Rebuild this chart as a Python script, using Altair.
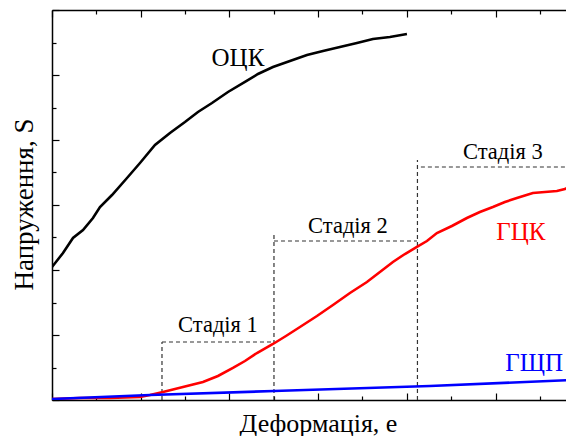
import altair as alt
import pandas as pd

# ---- data (x in minor-tick units, y in minor-tick units) ----
bcc_x = [0, 0.248, 0.473, 0.699, 0.924, 1.082, 1.353, 1.691, 1.984, 2.322, 2.66, 2.998, 3.291,
         3.607, 3.968, 4.351, 4.644, 4.982, 5.365, 5.749, 6.11, 6.492, 6.876, 7.236, 7.619, 8.003]
bcc_y = [4.092, 4.523, 4.985, 5.231, 5.6, 5.938, 6.308, 6.831, 7.292, 7.846, 8.215, 8.554, 8.862,
         9.138, 9.477, 9.785, 10.031, 10.246, 10.431, 10.615, 10.738, 10.862, 10.985, 11.108, 11.169, 11.262]

fcc_x = [0, 0.631, 1.307, 1.984, 2.209, 2.502, 2.953, 3.404, 3.742, 4.08, 4.351, 4.621, 4.982,
         5.275, 5.591, 5.974, 6.335, 6.718, 7.101, 7.394, 7.687, 7.958, 8.228, 8.454, 8.679, 9.017,
         9.355, 9.648, 9.941, 10.212, 10.482, 10.843, 11.114, 11.384, 11.565, 11.745]
fcc_y = [0.031, 0.062, 0.062, 0.092, 0.154, 0.246, 0.4, 0.554, 0.738, 0.985, 1.2, 1.446, 1.723,
         1.969, 2.246, 2.585, 2.923, 3.292, 3.631, 3.938, 4.246, 4.492, 4.708, 4.892, 5.138, 5.354,
         5.6, 5.785, 5.938, 6.092, 6.215, 6.369, 6.4, 6.431, 6.492, 6.615]

hcp_x = [0, 2.209, 5.005, 8.521, 11.745]
hcp_y = [0.031, 0.154, 0.277, 0.431, 0.615]

series_names = ["ОЦК", "ГЦК", "ГЩП"]
series_colors = ["#000000", "#ff0000", "#0000ff"]
curve_label_x = [4.193, 10.573, 10.87]
curve_label_y = [10.523, 5.169, 1.138]

stage_v_x = [2.48, 5.005, 8.24]
stage_v_top = [1.785, 5.077, 7.385]
stage_h_x1 = [2.48, 5.005, 8.318]
stage_h_x2 = [5.005, 8.228, 11.9]
stage_h_y = [1.785, 4.892, 7.169]
stage_labels = ["Стадія 1", "Стадія 2", "Стадія 3"]
stage_label_x = [3.742, 6.673, 10.167]
stage_label_y = [2.308, 5.354, 7.631]

x_ticks = list(range(0, 12))
y_ticks = list(range(0, 13))
X_DOMAIN = [0, 11.77]
Y_DOMAIN = [0, 12]

W, H = 522, 390
FONT = "Liberation Serif"

# ---- tables ----
rows = []
for name, xs, ys in zip(series_names, [bcc_x, fcc_x, hcp_x], [bcc_y, fcc_y, hcp_y]):
    for i, (a, b) in enumerate(zip(xs, ys)):
        rows.append({"series": name, "i": i, "x": a, "y": b})
curves = pd.DataFrame(rows)

segs = []
for vx, vt in zip(stage_v_x, stage_v_top):
    segs.append({"x": vx, "x2": vx, "y": 0, "y2": vt})
for x1, x2, hy in zip(stage_h_x1, stage_h_x2, stage_h_y):
    segs.append({"x": x1, "x2": x2, "y": hy, "y2": hy})
segs = pd.DataFrame(segs)

clabels = pd.DataFrame({"series": series_names, "x": curve_label_x, "y": curve_label_y})
slabels = pd.DataFrame({"label": stage_labels, "x": stage_label_x, "y": stage_label_y})

xscale = alt.Scale(domain=X_DOMAIN, nice=False, zero=False)
yscale = alt.Scale(domain=Y_DOMAIN, nice=False, zero=False)
cscale = alt.Scale(domain=series_names, range=series_colors)

tick_size = {"condition": {"test": "datum.value % 2 === 0", "value": 7}, "value": 4}
common = dict(labels=False, grid=False, tickColor="black", tickWidth=1.2,
              domainColor="black", domainWidth=1.5)

# axis with titles (bottom/left), no ticks
x_title_axis = alt.Axis(orient="bottom", title="Деформація, e", ticks=False, labels=False, grid=False,
                        domain=True, domainColor="black", domainWidth=1.5,
                        titleFont=FONT, titleFontSize=26, titleFontWeight="normal", titleColor="black",
                        titleX=266, titleY=31, titleBaseline="alphabetic", titleAlign="center")
y_title_axis = alt.Axis(orient="left", title="Напруження, S", ticks=False, labels=False, grid=False,
                        domain=True, domainColor="black", domainWidth=1.5,
                        titleFont=FONT, titleFontSize=27, titleFontWeight="normal", titleColor="black",
                        titleAngle=270, titleX=-20, titleY=194, titleBaseline="alphabetic",
                        titleAlign="center")

# inward tick axes
x_top_axis = alt.Axis(orient="bottom", offset=-H, values=x_ticks, ticks=True, tickSize=tick_size,
                      domain=True, title=None, **common)
y_left_axis = alt.Axis(orient="right", offset=-W, values=y_ticks, ticks=True, tickSize=tick_size,
                       domain=False, title=None, **common)
x_bottom_axis = alt.Axis(orient="top", offset=-H, values=x_ticks, ticks=True, tickSize=tick_size,
                         domain=False, title=None, **common)

rules = alt.Chart(segs).mark_rule(color="#333333", strokeWidth=1.2, strokeDash=[4, 3], clip=True).encode(
    x=alt.X("x:Q", scale=xscale, axis=x_title_axis),
    x2="x2:Q",
    y=alt.Y("y:Q", scale=yscale, axis=y_title_axis),
    y2="y2:Q",
)

lines = alt.Chart(curves).mark_line(strokeWidth=2.6, clip=True).encode(
    x=alt.X("x:Q", scale=xscale, axis=x_top_axis),
    y=alt.Y("y:Q", scale=yscale, axis=y_left_axis),
    color=alt.Color("series:N", scale=cscale, legend=None),
    order="i:Q",
)

ctext = alt.Chart(clabels).mark_text(font=FONT, fontSize=25, align="center", baseline="middle").encode(
    x=alt.X("x:Q", scale=xscale, axis=x_bottom_axis),
    y=alt.Y("y:Q", scale=yscale, axis=None),
    text="series:N",
    color=alt.Color("series:N", scale=cscale, legend=None),
)

stext = alt.Chart(slabels).mark_text(font=FONT, fontSize=22.5, align="center", baseline="middle",
                                     color="black").encode(
    x=alt.X("x:Q", scale=xscale, axis=None),
    y=alt.Y("y:Q", scale=yscale, axis=None),
    text="label:N",
)

chart = alt.layer(rules, lines, ctext, stext).resolve_axis(
    x="independent", y="independent"
).properties(
    width=W, height=H,
    autosize=alt.AutoSizeParams(type="none"),
    padding={"left": 44, "top": 2, "right": -8, "bottom": 36},
    background="white",
).configure_view(stroke=None)

chart.save("out.html", embed_options={"renderer": "svg", "actions": False})
